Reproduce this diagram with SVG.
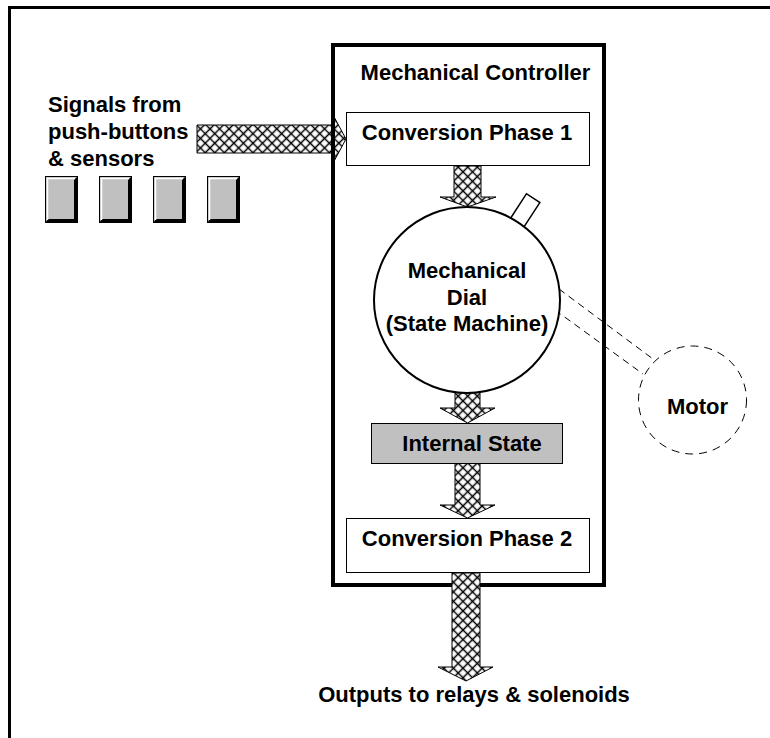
<svg xmlns="http://www.w3.org/2000/svg" width="770" height="738" viewBox="0 0 770 738">
  <style>
    text { font-family: "Liberation Sans", Arial, sans-serif; font-weight: bold; font-size: 22px; fill: #000; }
    .mid { text-anchor: middle; }
    .box { fill: #fff; stroke: #000; stroke-width: 1; }
    .flow { fill: url(#hatch); stroke: #000; stroke-width: 1; stroke-linejoin: miter; }
    .dash { fill: none; stroke: #000; stroke-width: 1; stroke-dasharray: 7 5; }
  </style>
  <defs>
    <!-- cross-hatch fill for the signal flow arrows -->
    <pattern id="hatch" patternUnits="userSpaceOnUse" width="6.75" height="6.75" patternTransform="rotate(45)">
      <rect width="6.75" height="6.75" fill="#fff"/>
      <path d="M3.37,0 V6.75 M0,3.37 H6.75" stroke="#000" stroke-width="1.5"/>
    </pattern>
    <!-- bevelled push-button -->
    <g id="btn">
      <rect x="0.5" y="0.5" width="32" height="46" fill="#c0c0c0" stroke="#000" stroke-width="1"/>
      <polygon points="33,0 33,47 0,47 3,43 29,43 29,4" fill="#000"/>
      <polyline points="2.5,44 2.5,2.5 30,2.5" fill="none" stroke="#fff" stroke-width="1.5"/>
    </g>
  </defs>

  <rect width="770" height="738" fill="#fff"/>
  <!-- page frame -->
  <rect x="9.5" y="7.5" width="800" height="800" fill="none" stroke="#000" stroke-width="3"/>

  <!-- input label and buttons -->
  <g id="inputs">
    <text x="48" y="112">Signals from</text>
    <text x="48" y="139">push-buttons</text>
    <text x="48" y="166">&amp; sensors</text>
  </g>
  <g id="button1"><use href="#btn" x="45" y="176"/></g>
  <g id="button2"><use href="#btn" x="99" y="176"/></g>
  <g id="button3"><use href="#btn" x="153" y="176"/></g>
  <g id="button4"><use href="#btn" x="207" y="176"/></g>

  <!-- input flow, passes under the controller wall -->
  <g id="connector-input">
    <path class="flow" d="M197,125 L332,125 L332,113 L346,139 L332,165 L332,153 L197,153 Z"/>
  </g>

  <!-- controller enclosure -->
  <g id="controller">
    <rect x="333" y="45" width="271" height="540" fill="none" stroke="#000" stroke-width="4"/>
    <text class="mid" x="475.5" y="80">Mechanical Controller</text>
  </g>

  <g id="connectors">
    <path class="flow" d="M454,166 L481,166 L481,197 L496,197 L467.5,207 L440,197 L454,197 Z"/>
    <path class="flow" d="M455,392 L480,392 L480,408 L495,408 L467.5,423 L440,408 L455,408 Z"/>
    <path class="flow" d="M455,463 L480,463 L480,505 L495,505 L467.5,518 L440,505 L455,505 Z"/>
    <path class="flow" d="M452,573 L480,573 L480,667 L493,667 L466,681 L438,667 L452,667 Z"/>
    <line class="dash" x1="559" y1="289" x2="653" y2="359"/>
    <line class="dash" x1="555" y1="310" x2="643" y2="374"/>
  </g>

  <g id="phase1">
    <rect class="box" x="346.5" y="112.5" width="243" height="53"/>
    <text class="mid" x="467" y="140">Conversion Phase 1</text>
  </g>

  <g id="dial">
    <rect x="459" y="178.5" width="16" height="35" fill="#fff" stroke="#000" stroke-width="1.5" transform="rotate(33 467 300)"/>
    <circle cx="467" cy="300" r="93" fill="#fff" stroke="#000" stroke-width="2"/>
    <text class="mid" x="467" y="278">Mechanical</text>
    <text class="mid" x="467" y="305">Dial</text>
    <text class="mid" x="467" y="331">(State Machine)</text>
  </g>

  <g id="state">
    <rect x="371.5" y="423.5" width="191" height="40" fill="#c0c0c0" stroke="#000" stroke-width="1"/>
    <text class="mid" x="472" y="451">Internal State</text>
  </g>

  <g id="phase2">
    <rect class="box" x="346.5" y="518.5" width="243" height="54"/>
    <text class="mid" x="467" y="546">Conversion Phase 2</text>
  </g>

  <g id="motor">
    <circle cx="692.5" cy="400" r="54" fill="none" stroke="#000" stroke-width="1" stroke-dasharray="8 6"/>
    <text class="mid" x="697.5" y="414">Motor</text>
  </g>

  <g id="outputs">
    <text class="mid" x="474" y="702">Outputs to relays &amp; solenoids</text>
  </g>
</svg>
